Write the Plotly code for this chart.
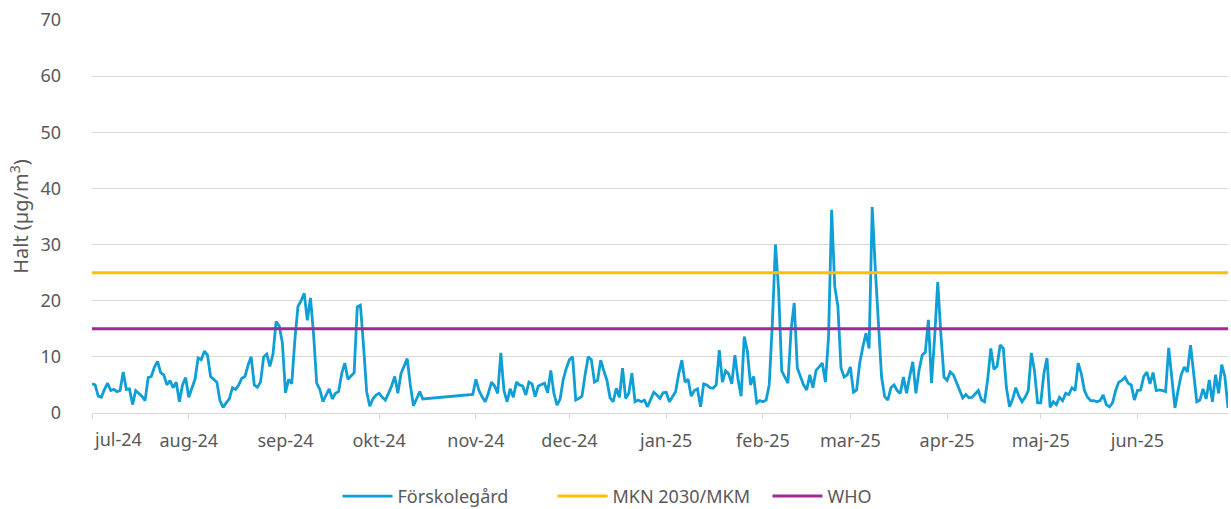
import pandas as pd
import plotly.graph_objects as go

# Daily values (µg/m³) per month
jul24 = [5.2, 5.0, 3.0, 2.8, 4.2, 5.3, 4.0, 4.2, 3.8, 4.0, 7.3, 4.2, 4.3, 1.5, 4.0, 3.5,
         3.0, 2.2, 6.3, 6.5, 8.2, 9.2, 7.2, 6.8, 5.0, 5.8, 4.5, 5.5, 2.0, 5.0, 6.3]
aug24 = [2.8, 4.5, 6.0, 9.8, 9.5, 11.0, 10.3, 6.5, 6.0, 5.5, 2.2, 1.0, 1.8, 2.5, 4.5, 4.2,
         5.0, 6.2, 6.5, 8.5, 10.0, 5.0, 4.6, 5.5, 10.0, 10.5, 8.3, 10.5, 16.3, 15.5, 12.5]
sep24 = [3.6, 6.0, 5.2, 13.0, 19.0, 20.0, 21.3, 16.5, 20.5, 14.0, 5.3, 4.2, 2.0, 3.2, 4.3,
         2.5, 3.5, 3.8, 7.0, 8.9, 6.0, 6.6, 7.2, 18.9, 19.2, 12.0, 3.8, 1.2, 2.5, 3.2]
okt24 = [3.5, 2.8, 2.3, 3.5, 4.8, 6.5, 3.5, 7.0, 8.3, 9.7, 5.0, 1.3, 2.5, 3.8, 2.5,
         None, None, None, None, None, None, None, None, None, None, None, None, None, None, None,
         3.3]
nov24 = [6.0, 4.0, 2.9, 2.0, 3.5, 5.5, 4.8, 3.5, 10.7, 4.0, 2.0, 4.3, 2.8, 5.5, 5.0,
         4.8, 3.2, 5.5, 5.2, 2.9, 4.8, 5.0, 5.3, 3.6, 7.6, 3.5, 1.4, 2.5, 6.0, 8.0]
dec24 = [9.5, 10.0, 2.3, 2.6, 3.0, 6.8, 10.0, 9.5, 5.5, 5.8, 9.4, 7.5, 5.8, 2.7, 2.0, 4.4,
         2.8, 8.0, 2.6, 3.5, 7.1, 2.0, 2.3, 2.0, 2.3, 1.1, 2.5, 3.7, 3.2, 2.6, 3.6]
jan25 = [3.7, 2.0, 3.0, 3.8, 7.0, 9.4, 5.5, 6.0, 3.0, 4.0, 4.3, 1.1, 5.2, 5.0, 4.5, 4.4,
         5.0, 11.2, 5.5, 7.5, 7.0, 5.2, 10.3, 6.0, 3.0, 13.6, 11.0, 5.0, 6.5, 1.8, 2.2]
feb25 = [2.0, 2.3, 5.0, 16.0, 30.0, 22.0, 7.5, 6.4, 5.3, 14.8, 19.6, 8.0, 6.4, 5.0, 4.1,
         6.8, 4.5, 7.6, 8.2, 8.9, 5.5, 13.5, 36.2, 22.5, 19.0, 8.0, 6.4, 6.8]
mar25 = [8.2, 3.7, 4.1, 8.9, 11.8, 14.2, 11.5, 36.7, 25.5, 14.8, 6.4, 2.9, 2.3, 4.5, 5.0,
         4.0, 3.5, 6.4, 3.5, 6.5, 9.1, 3.5, 7.6, 10.3, 10.8, 16.6, 5.3, 13.5, 23.3, 14.0, 6.4]
apr25 = [5.8, 7.3, 6.8, 5.5, 4.0, 2.7, 3.3, 2.7, 2.8, 3.5, 4.0, 2.3, 2.0, 6.0, 11.5, 7.8,
         8.3, 12.1, 11.5, 4.5, 1.1, 2.5, 4.5, 3.0, 2.0, 2.8, 4.0, 10.7, 7.5, 1.8]
maj25 = [1.8, 7.0, 9.8, 1.0, 2.0, 1.5, 2.8, 2.2, 3.5, 3.3, 4.5, 4.0, 8.9, 7.0, 4.0, 2.8,
         2.2, 2.2, 2.0, 2.2, 3.2, 1.5, 1.1, 1.8, 4.0, 5.5, 5.8, 6.4, 5.3, 5.0, 2.3]
jun25 = [4.0, 4.1, 6.5, 7.3, 5.2, 7.2, 4.0, 4.1, 4.0, 3.8, 11.6, 6.5, 0.9, 4.0, 6.8, 8.2,
         7.3, 12.1, 6.5, 2.0, 2.3, 4.3, 2.5, 5.9, 2.0, 6.8, 3.5, 8.6, 6.5, 0.9]

months = [jul24, aug24, sep24, okt24, nov24, dec24, jan25, feb25, mar25, apr25, maj25, jun25]
values = [v for m in months for v in m]
dates = pd.date_range("2024-07-01", periods=len(values), freq="D")

mkn_limit = 25
who_limit = 15

tick_dates = pd.date_range("2024-07-01", "2025-06-01", freq="MS")
tick_labels = ["jul-24", "aug-24", "sep-24", "okt-24", "nov-24", "dec-24",
               "jan-25", "feb-25", "mar-25", "apr-25", "maj-25", "jun-25"]

font = "Noto Sans"
grey = "#595959"
fs = 18

fig = go.Figure()
fig.add_trace(go.Scatter(x=dates, y=values, mode="lines", name="Förskolegård",
                         line=dict(color="#0F9ED5", width=2.8), connectgaps=True))
fig.add_trace(go.Scatter(x=[dates[0], dates[-1]], y=[mkn_limit, mkn_limit], mode="lines",
                         name="MKN 2030/MKM", line=dict(color="#FFC000", width=3)))
fig.add_trace(go.Scatter(x=[dates[0], dates[-1]], y=[who_limit, who_limit], mode="lines",
                         name="WHO", line=dict(color="#A02B93", width=3)))

fig.update_layout(
    width=1231, height=509,
    margin=dict(l=92, r=3, t=20, b=96, autoexpand=False),
    paper_bgcolor="white", plot_bgcolor="white",
    font=dict(family=font, size=fs, color=grey),
    showlegend=True,
    legend=dict(orientation="h", x=0.5, xanchor="center", y=-0.165, yanchor="top",
                font=dict(size=fs, color=grey), itemwidth=50,
                entrywidth=150, entrywidthmode="pixels"),
)
fig.update_xaxes(
    range=[dates[0], dates[-1]], tickvals=list(tick_dates),
    ticktext=[""] + tick_labels[1:], automargin=False,
    showgrid=False, showline=True, linecolor="#d9d9d9", linewidth=1,
    ticks="outside", ticklen=5, tickcolor="#d9d9d9", ticklabelstandoff=6,
    tickfont=dict(size=fs, color=grey), zeroline=False,
)
fig.update_yaxes(
    range=[0, 70], dtick=10, showgrid=True, gridcolor="#d9d9d9", gridwidth=1,
    zeroline=False, showline=False, ticks="", ticklabelstandoff=30, automargin=False,
    tickfont=dict(size=fs, color=grey),
    title=dict(text="Halt (µg/m<sup>3</sup>)", font=dict(size=20, color=grey), standoff=6),
)
fig.add_annotation(x=tick_dates[0], y=0, xref="x", yref="paper", yshift=-12,
                   text=tick_labels[0], showarrow=False, xanchor="left", yanchor="top",
                   font=dict(size=fs, color=grey))

fig.write_html("out.html", config={"displayModeBar": False},
               post_script="document.body.style.margin='0px';")
